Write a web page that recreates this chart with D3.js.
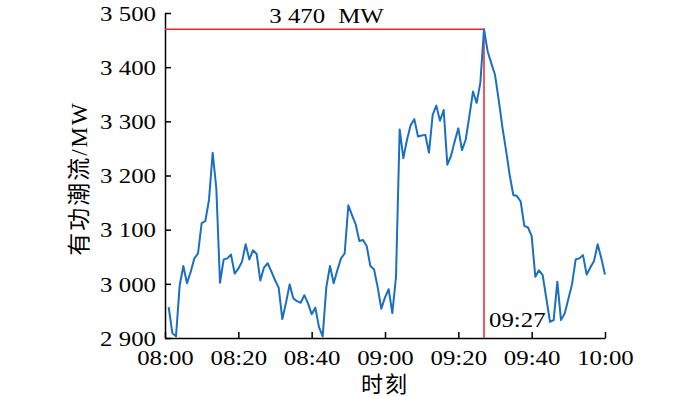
<!DOCTYPE html>
<html>
<head>
<meta charset="utf-8">
<script src="https://cdn.jsdelivr.net/npm/d3@7"></script>
<style>
  body { margin: 0; background: #fff; }
  text { font-family: "Liberation Serif", "Noto Sans CJK SC", serif; fill: #000; }
</style>
</head>
<body>
<div class="chart"></div>
<script>
// minutes after 08:00, one sample per minute
var minutes = d3.range(1, 121);
var power = [
    2957, 2909, 2903, 2997, 3033, 3001, 3022, 3047, 3056, 3112,
    3116, 3155, 3242, 3176, 3002, 3045, 3047, 3054, 3019, 3028,
    3041, 3073, 3045, 3062, 3055, 3006, 3030, 3038, 3023, 3007,
    2993, 2935, 2965, 2999, 2973, 2968, 2965, 2979, 2964, 2944,
    2956, 2920, 2903, 2994, 3033, 3001, 3025, 3047, 3056, 3145,
    3127, 3110, 3079, 3081, 3070, 3033, 3027, 2994, 2954, 2975,
    2990, 2946, 3013, 3285, 3232, 3266, 3293, 3304, 3272, 3274,
    3275, 3242, 3312, 3329, 3301, 3321, 3220, 3236, 3263, 3287,
    3247, 3266, 3309, 3355, 3334, 3371, 3470, 3429, 3407, 3386,
    3340, 3290, 3247, 3201, 3164, 3162, 3152, 3107, 3104, 3088,
    3013, 3025, 3016, 2973, 2930, 2933, 3004, 2933, 2945, 2972,
    2999, 3045, 3047, 3053, 3017, 3030, 3042, 3073, 3047, 3017
];
var xTicks = [0, 20, 40, 60, 80, 100, 120];
var xTickLabels = ["08:00", "08:20", "08:40", "09:00", "09:20", "09:40", "10:00"];
var yTicks = [2900, 3000, 3100, 3200, 3300, 3400, 3500];
var peakMinute = 87, peakValue = 3470;

var margin = { top: 13, right: 95, bottom: 59, left: 165 },
    width = 700 - margin.left - margin.right,
    height = 397 - margin.top - margin.bottom;

var x = d3.scaleLinear().domain([0, 120]).range([0, width]);
var y = d3.scaleLinear().domain([2900, 3500]).range([height, 0]);

var stretch = 1.13;  // the numbers in the reference are a bit wider than Times
var fmt = function(v) { return d3.format(",")(v).replace(",", " "); };

var svg = d3.select(".chart").append("svg")
    .attr("width", 700)
    .attr("height", 397)
    .append("g")
    .attr("transform", "translate(" + margin.left + "," + margin.top + ")");

var xAxis = svg.append("g")
    .attr("transform", "translate(0," + height + ")")
    .call(d3.axisBottom(x).tickValues(xTicks).tickSizeInner(-6).tickSizeOuter(0)
        .tickFormat(function(d, i) { return xTickLabels[i]; }));
xAxis.selectAll("text")
    .attr("dy", null).attr("y", 0)
    .attr("transform", "translate(0,27) scale(" + stretch + ",1)")
    .style("font-size", "22px");

var yAxis = svg.append("g")
    .call(d3.axisLeft(y).tickValues(yTicks).tickSizeInner(-6).tickSizeOuter(0)
        .tickFormat(fmt));
yAxis.selectAll("text")
    .attr("x", 0).attr("dy", "0.33em")
    .attr("transform", "translate(-9,0) scale(" + stretch + ",1)")
    .style("font-size", "22px");

svg.selectAll(".domain, .tick line").attr("stroke", "#000").attr("stroke-width", 1.5);

// red marker lines at the peak
svg.append("path")
    .attr("d", "M0," + y(peakValue) + "H" + x(peakMinute) + "V" + height)
    .attr("fill", "none")
    .attr("stroke", "#e8262a")
    .attr("stroke-width", 1.5);

svg.append("path")
    .datum(minutes)
    .attr("fill", "none")
    .attr("stroke", "#1a6fc0")
    .attr("stroke-width", 2)
    .attr("stroke-linejoin", "round")
    .attr("d", d3.line()
        .x(function(d) { return x(d); })
        .y(function(d, i) { return y(power[i]); }));

var peakLabel = svg.append("text")
    .attr("transform", "translate(" + (x(peakMinute / 2) + 2) + "," + (y(peakValue) - 6) + ") scale(" + stretch + ",1)")
    .attr("text-anchor", "middle")
    .style("font-size", "22px");
peakLabel.append("tspan").text(fmt(peakValue));
peakLabel.append("tspan").attr("dx", 6).text(" MW");

svg.append("text")
    .attr("transform", "translate(" + (x(peakMinute) + 5) + "," + (height - 11) + ") scale(" + stretch + ",1)")
    .style("font-size", "22px")
    .text("09:27");

svg.append("text")
    .attr("x", width / 2)
    .attr("y", height + 54)
    .attr("text-anchor", "middle")
    .style("font-size", "22px")
    .style("letter-spacing", "2px")
    .text("时刻");

svg.append("text")
    .attr("transform", "translate(-78," + (height / 2 + 3) + ") rotate(-90)")
    .attr("text-anchor", "middle")
    .style("font-size", "23px")
    .style("letter-spacing", "2px")
    .text("有功潮流/MW");
</script>
</body>
</html>
